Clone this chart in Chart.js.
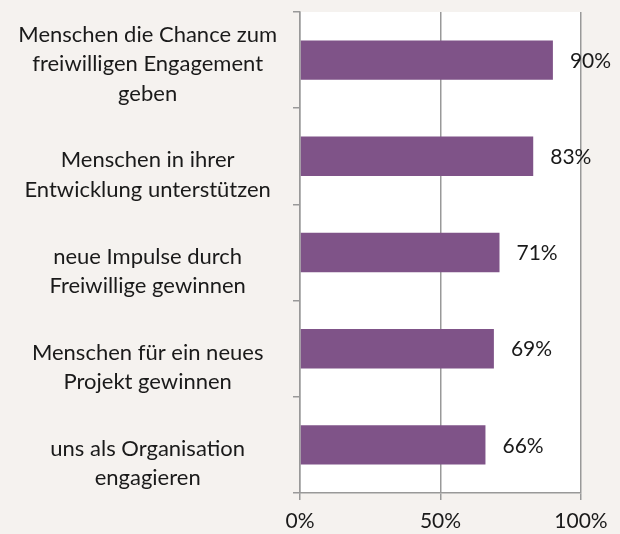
<!DOCTYPE html>
<html><head><meta charset="utf-8">
<script src="https://cdn.jsdelivr.net/npm/chart.js@4.4.0/dist/chart.umd.min.js"></script>
<style>html,body{margin:0;padding:0;background:#f5f2ef;}#wrap{width:620px;height:534px;}</style>
</head><body><div id="wrap"><canvas id="c" width="620" height="534"></canvas></div>
<script>
const categories = [
  ["Menschen die Chance zum", "freiwilligen Engagement", "geben"],
  ["Menschen in ihrer", "Entwicklung unterstützen"],
  ["neue Impulse durch", "Freiwillige gewinnen"],
  ["Menschen für ein neues", "Projekt gewinnen"],
  ["uns als Organisation", "engagieren"]
];
const values = [90, 83, 71, 69, 66];
const xTicks = [0, 50, 100];

const FONT = "Lato, 'Open Sans', sans-serif";
const GRAY = '#999999';

const plotBg = {
  id: 'plotBg',
  beforeDraw(chart) {
    const {ctx, chartArea: a} = chart;
    ctx.save();
    ctx.fillStyle = '#ffffff';
    ctx.fillRect(a.left, a.top, a.right - a.left, a.bottom - a.top);
    ctx.restore();
  }
};
const valueLabels = {
  id: 'valueLabels',
  afterDatasetsDraw(chart) {
    const {ctx} = chart;
    const meta = chart.getDatasetMeta(0);
    ctx.save();
    ctx.font = "21px " + FONT;
    ctx.fillStyle = '#1a1a1a';
    ctx.textAlign = 'left';
    ctx.textBaseline = 'middle';
    meta.data.forEach((bar, i) => {
      ctx.fillText(values[i] + '%', bar.x + 17, bar.y + 1);
    });
    ctx.restore();
  }
};
function zeroPad(s) { s.paddingTop = 0; s.paddingBottom = 0; s.paddingLeft = 0; s.paddingRight = 0; }

new Chart(document.getElementById('c'), {
  type: 'bar',
  data: {
    labels: categories,
    datasets: [{ data: values, backgroundColor: '#7f5388', barPercentage: 0.41, categoryPercentage: 1 }]
  },
  options: {
    indexAxis: 'y',
    responsive: false,
    animation: false,
    layout: { padding: { top: 12, right: 39, left: 0, bottom: 0 } },
    plugins: { legend: { display: false }, tooltip: { enabled: false } },
    scales: {
      x: {
        min: 0, max: 100,
        afterBuildTicks(s) { s.ticks = xTicks.map(v => ({ value: v })); },
        afterFit(s) { s.height = 41; zeroPad(s); },
        border: { color: GRAY, width: 1.5 },
        grid: { color: GRAY, lineWidth: 1.5, drawTicks: true, tickLength: 7 },
        ticks: { color: '#1a1a1a', font: { size: 21, family: FONT }, padding: 9, callback: v => v + '%', maxRotation: 0 }
      },
      y: {
        afterFit(s) { s.width = 300; zeroPad(s); },
        border: { color: GRAY, width: 1.5 },
        grid: { offset: true, drawOnChartArea: false, drawTicks: true, tickLength: 7, color: GRAY, lineWidth: 1.5 },
        ticks: {
          color: '#1a1a1a', font: { size: 22, family: FONT, lineHeight: 1.34 },
          crossAlign: 'center', padding: 16, labelOffset: 4,
          callback: (v, i) => { const l = categories[i]; return l.length < 3 ? [''].concat(l) : l; }
        }
      }
    }
  },
  plugins: [plotBg, valueLabels]
});
</script></body></html>
